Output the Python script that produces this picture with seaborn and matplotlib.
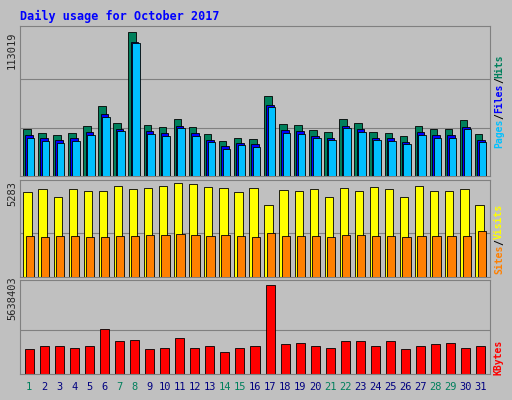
import matplotlib
matplotlib.use("Agg")
import matplotlib.pyplot as plt
import seaborn as sns
import numpy as np

sns.set_style("white")
plt.rcParams['font.family'] = ['DejaVu Sans Mono', 'DejaVu Sans']

days = list(range(1, 32))
weekend = [1, 7, 8, 14, 15, 21, 22, 28, 29]
hits = [36600, 33400, 31800, 33400, 39000, 54900, 41400, 113019, 39800, 38200, 44600, 38200,
        32600, 27100, 29500, 28700, 62900, 40600, 39800, 35800, 34200, 44600, 41400, 34200,
        33400, 31000, 39000, 36600, 36600, 43800, 32600]
files = [32000, 29500, 28000, 29500, 34500, 48500, 36500, 105000, 35000, 33500, 39500, 33500,
         28500, 23500, 26000, 25000, 56000, 36000, 35000, 31500, 30000, 39500, 36500, 30000,
         29500, 27000, 34500, 32000, 32000, 38500, 28500]
pages = [30000, 27500, 26000, 27500, 32500, 46000, 35000, 104000, 33000, 31500, 37500, 31500,
         26500, 21500, 24000, 23000, 54000, 34000, 33000, 29500, 28000, 37500, 34500, 28000,
         27500, 25000, 32500, 30000, 30000, 36500, 26500]
visits = [5040, 5220, 4740, 5220, 5100, 5100, 5400, 5220, 5280, 5400, 5580, 5520, 5340, 5280,
          5040, 5280, 4260, 5160, 5100, 5220, 4740, 5280, 5100, 5340, 5220, 4740, 5400, 5100,
          5100, 5220, 4260]
sites = [2430, 2370, 2430, 2430, 2400, 2370, 2430, 2430, 2490, 2490, 2550, 2520, 2460, 2490,
         2430, 2400, 2640, 2460, 2430, 2460, 2400, 2490, 2490, 2430, 2460, 2400, 2430, 2430,
         2460, 2430, 2760]
kbytes = [1620000, 1750000, 1810000, 1680000, 1810000, 2850000, 2070000, 2140000, 1620000,
          1680000, 2270000, 1680000, 1750000, 1420000, 1680000, 1810000, 5638403, 1880000,
          1940000, 1750000, 1680000, 2070000, 2070000, 1750000, 2070000, 1620000, 1750000,
          1880000, 1940000, 1680000, 1750000]

fig = plt.figure(figsize=(5.12, 4.0), dpi=100, facecolor="#C0C0C0")
x = np.array(days)

def mkax(b, h):
    ax = fig.add_axes([20/512, b, 470/512, h])
    ax.set_facecolor("#C0C0C0")
    ax.set_xlim(0.4, 31.6)
    ax.set_xticks([]); ax.set_yticks([])
    for s in ax.spines.values():
        s.set_color("#808080")
    return ax

a1 = mkax(1-176/400, 150/400)
a1.set_ylim(0, 113019*1.04)
for gy in [113019*0.67, 113019*0.33]:
    a1.axhline(gy, color="#808080", lw=0.8, zorder=0)
a1.bar(x-0.15, hits, 0.5, color="#00805C", edgecolor="black", lw=0.6, zorder=2)
a1.bar(x, files, 0.5, color="#0000FF", edgecolor="black", lw=0.6, zorder=3)
a1.bar(x+0.1, pages, 0.5, color="#00C0FF", edgecolor="black", lw=0.6, zorder=4)

a2 = mkax(1-277/400, 97/400)
a2.set_ylim(0, 5283*1.09)
a2.axhline(5283*0.5, color="#808080", lw=0.8, zorder=0)
a2.bar(x-0.1, visits, 0.55, color="#FFFF00", edgecolor="black", lw=0.6, zorder=2)
a2.bar(x+0.05, sites, 0.55, color="#FF8000", edgecolor="black", lw=0.6, zorder=3)

a3 = mkax(1-374/400, 94/400)
a3.set_ylim(0, 5638403*1.06)
a3.axhline(5638403*0.5, color="#808080", lw=0.8, zorder=0)
a3.bar(x, kbytes, 0.6, color="#FF0000", edgecolor="black", lw=0.6, zorder=2)

fig.text(20/512, 1-16/400, "Daily usage for October 2017", color="#0000FF",
         fontsize=8.5, fontweight="bold", va="center")
for yy, lab in [(50, "113019"), (194, "5283"), (298, "5638403")]:
    fig.text(12/512, 1-yy/400, lab, rotation=90, fontsize=7.5, ha="center", va="center")

renderer = fig.canvas.get_renderer()
def rlabel(ystart, parts):
    y = ystart
    for t, c in parts:
        tx = fig.text(499/512, 1-y/400, t, rotation=90, color=c, fontsize=7,
                      fontweight="bold", ha="center", va="bottom")
        ext = tx.get_window_extent(renderer)
        y -= ext.height
rlabel(148, [("Pages", "#00C0FF"), ("/", "#000000"), ("Files", "#0000FF"), ("/", "#000000"), ("Hits", "#00805C")])
rlabel(274, [("Sites", "#FF8000"), ("/", "#000000"), ("Visits", "#FFFF00")])
rlabel(375, [("KBytes", "#FF0000")])

ax_lab = fig.add_axes([20/512, 1-395/400, 470/512, 15/400])
ax_lab.set_xlim(0.4, 31.6); ax_lab.set_ylim(0, 1); ax_lab.axis("off")
for d in days:
    ax_lab.text(d, 0.5, str(d), ha="center", va="center", fontsize=7.5,
                color="#00805C" if d in weekend else "#000080")

fig.savefig("out.png", dpi=100, facecolor=fig.get_facecolor())
